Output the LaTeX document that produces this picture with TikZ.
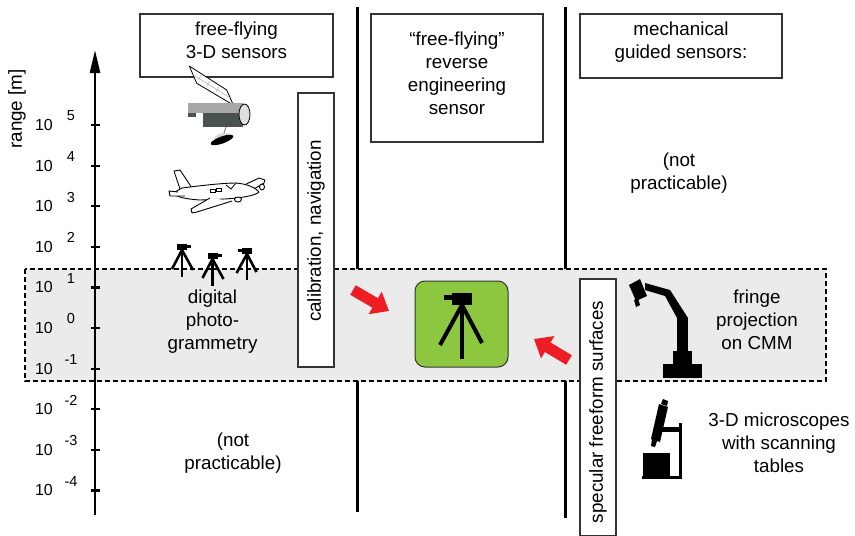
\documentclass[tikz,border=0pt]{standalone}
\usepackage{fontspec}
\setmainfont{Liberation Sans}
\usetikzlibrary{arrows.meta}
\definecolor{bandgray}{HTML}{EBEBEB}
\definecolor{sensorgreen}{HTML}{8DC63F}
\definecolor{arrowred}{HTML}{EE1D23}
\definecolor{hulllight}{HTML}{A8A8A8}
\definecolor{hulldark}{HTML}{4B5252}
\tikzset{
  lbl/.style={align=center, inner sep=0pt, font=\fontsize{18.8}{23}\selectfont},
  framebox/.style={draw=black!80, line width=1.1pt, fill=white, inner sep=0pt},
  divider/.style={line width=3pt},
  axisline/.style={line width=2.6pt},
  axistick/.style={line width=2.2pt},
  tenlbl/.style={inner sep=0pt, font=\fontsize{16}{18}\selectfont},
  explbl/.style={inner sep=0pt, font=\fontsize{14.5}{16}\selectfont},
  bigarrow/.style={draw=arrowred, line width=11pt, -{Triangle[length=16pt,width=25pt]}},
  outline/.style={draw=black, fill=white, line width=0.9pt, line join=round},
  tripod/.pic={
    \fill (-5,-6) rectangle (5,0);
    \fill (5,-5) rectangle (9,-2.5);
    \draw (0,0) -- (-10,19);
    \draw (0,0) -- (11,20);
    \draw (0,0) -- (0,27);
  },
}
\begin{document}
\begin{tikzpicture}[x=1pt,y=-1pt]
\useasboundingbox (0,0) rectangle (855,536);

% column dividers
\coordinate (d1t) at (357,7);   \coordinate (d1b) at (357,512);
\coordinate (d2t) at (565,7);   \coordinate (d2b) at (565,518);
\draw[divider] (d1t) -- (d1b);
\draw[divider] (d2t) -- (d2b);

% band of ranges covered by the sensor
\draw[fill=bandgray, line width=1.4pt, dash pattern=on 5pt off 3pt] (25,269) rectangle (826,381);

% range axis
\coordinate (axb) at (95,515);
\coordinate (axt) at (95,50);
\draw[axisline, -{Triangle[length=23pt,width=10pt]}] (axb) -- (axt);
\node[rotate=90, lbl] (axname) at (17,109) {range [m]};
\foreach \i/\e in {1/5,2/4,3/3,4/2,5/1,6/0,7/-1,8/-2,9/-3,10/-4} {
  \pgfmathsetmacro\yy{125+40.6*(\i-1)}
  \draw[axistick] (91,\yy) -- (100,\yy);
  \node[tenlbl] (ten\i) at (44,\yy) {10};
  \node[explbl] (exp\i) at (71,\yy-9) {\e};
}

% heading boxes
\node[framebox, minimum width=193pt, minimum height=63pt] (ffbox) at (236.5,45.5) {};
\node[lbl] (fftext) at (236.5,40) {free-flying\\3-D sensors};
\node[framebox, minimum width=172pt, minimum height=128pt] (rebox) at (457,78) {};
\node[lbl] (retext) at (457,73) {“free-flying”\\reverse\\engineering\\sensor};
\node[framebox, minimum width=202pt, minimum height=64pt] (mgbox) at (681,46) {};
\node[lbl] (mgtext) at (681,42) {mechanical\\guided sensors:};

% vertical side boxes
\node[framebox, minimum width=36pt, minimum height=274pt] (calbox) at (316,230) {};
\node[lbl, rotate=90] (caltext) at (316,231) {calibration, navigation};
\node[framebox, minimum width=36pt, minimum height=257pt] (specbox) at (598,407.5) {};
\node[lbl, rotate=90] (spectext) at (598,412) {specular freeform surfaces};

% green sensor
\node[draw=black!80, line width=1pt, fill=sensorgreen, rounded corners=10pt,
      minimum width=93pt, minimum height=86pt] (sensor) at (461.5,324) {};
\pic[xscale=-2, yscale=2, line width=4pt] (tpmain) at (462,305) {tripod};

% red arrows towards the sensor
\coordinate (ra1s) at (353,290);  \coordinate (ra1e) at (389,311);
\coordinate (ra2s) at (569,360);  \coordinate (ra2e) at (534,339);
\draw[bigarrow] (ra1s) -- (ra1e);
\draw[bigarrow] (ra2s) -- (ra2e);

% satellite
\draw[outline, line width=0.8pt] (189.3,66) -- (226.7,90) -- (233.3,105) -- (196.7,83.3) -- cycle;
\draw[gray!55, line width=0.6pt] (193.5,75) -- (229.5,97.5);
\draw[gray!55, line width=0.6pt] (201,75) -- (198,80) (210,81) -- (207,86) (219,87) -- (216,92);
\fill[hulllight] (188,103) rectangle (243,113);
\fill[hulldark] (203,113) rectangle (243,127);
\fill[hulldark] (188,113) rectangle (196,117);
\draw[fill=gray!25, line width=0.8pt] (244.5,114.5) ellipse (5.5 and 10.5);
\draw[gray, line width=0.8pt] (226,127) -- (224,133);
\fill[gray!30] (214,139) .. controls (216,132) and (229,131) .. (232,136) -- cycle;
\fill[rotate around={20:(222,140)}] (222,140) ellipse (12 and 3.5);

% aeroplane
\draw[outline] (240,187) -- (259,178) -- (265,180) -- (264,183) -- (249,192);
\draw[outline] (180,189) -- (174,171) -- (180,170) -- (192,188);
\draw[outline] (173,193) -- (182,188) .. controls (205,185) and (225,183) .. (236,183)
  .. controls (248,184) and (256,188) .. (259,192) .. controls (255,196) and (240,198) .. (225,199)
  -- (200,200) .. controls (185,199) and (176,197) .. (173,193) -- cycle;
\draw[outline] (178,192) -- (169,191) -- (170,196) -- (185,196);
\draw[outline] (210,198) -- (191,209) -- (192,213) -- (197,212) -- (232,201);
\draw[line width=0.8pt] (226,185) -- (231,189) -- (236,183);
\draw[line width=0.8pt] (210,189) rectangle (215,192);
\draw[line width=0.8pt] (216,188) rectangle (221,191);
\draw[outline] (238,199.5) ellipse (3.5 and 2.5);
\draw[outline] (262,187) ellipse (2.5 and 3);

% tripods of digital photogrammetry
\pic[line width=2.6pt] (tp1) at (182,250) {tripod};
\pic[line width=2.6pt] (tp2) at (212.5,259) {tripod};
\pic[xscale=-0.95, yscale=0.95, line width=2.6pt] (tp3) at (247,254) {tripod};

% coordinate measuring machine with fringe projector
\fill (663,364) rectangle (702,378);
\fill (673,351) rectangle (692,364);
\fill (677,318) rectangle (688,351);
\fill (645,283) -- (670,290) -- (688,318) -- (677,318) -- (665,296) -- (645,290) -- cycle;
\fill (629,285) -- (640,279) -- (647,296) -- (636,301) -- cycle;
\fill (634,300) -- (638,298) -- (640,305) -- (636,307) -- cycle;

% microscope on scanning table
\fill (642,476) rectangle (682,479);
\fill (643,453) rectangle (670,477);
\fill (679,423) rectangle (682,478);
\fill (661,427) rectangle (682,432);
\fill (659,404) -- (668,407) -- (660,442) -- (651,439) -- cycle;
\fill (661,404) -- (663,399) -- (668,401) -- (667,406) -- cycle;
\fill (652,439) -- (657,441) -- (655,447) -- (651,446) -- cycle;

% text labels
\node[lbl] (dp) at (212.5,322) {digital\\photo-\\grammetry};
\node[lbl] (np1) at (233,453.5) {(not\\practicable)};
\node[lbl] (np2) at (679,173) {(not\\practicable)};
\node[lbl] (fp) at (757,320) {fringe\\projection\\on CMM};
\node[lbl] (ms) at (779,443) {3-D microscopes\\with scanning\\tables};
\end{tikzpicture}
\end{document}
